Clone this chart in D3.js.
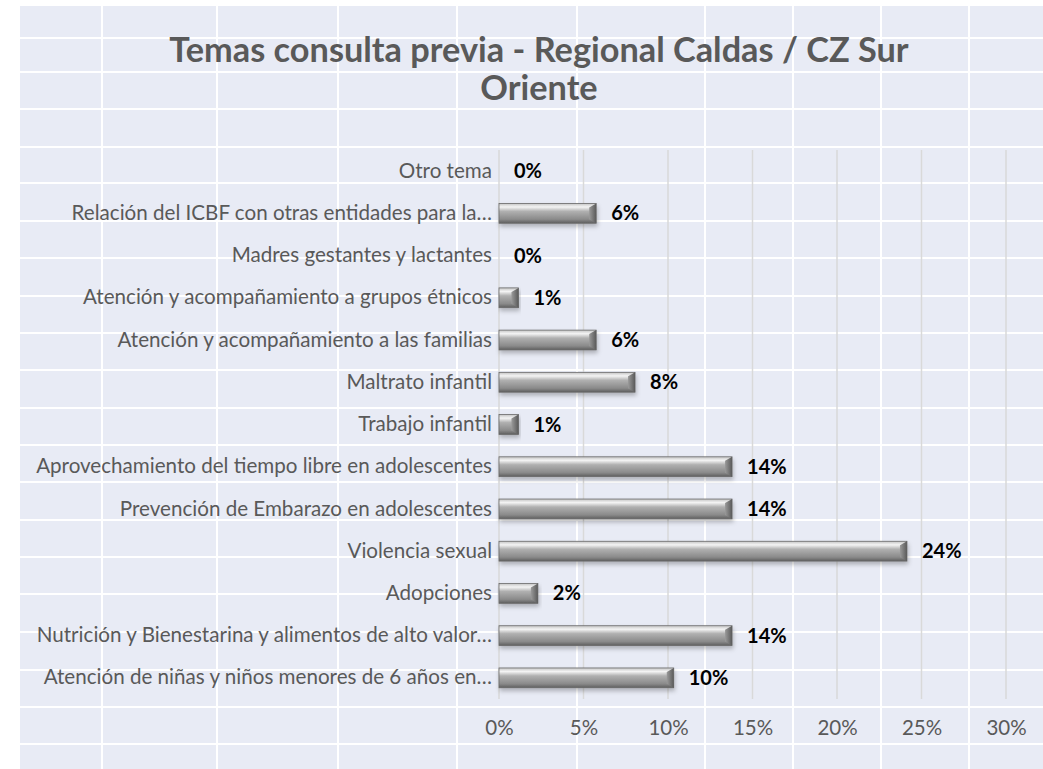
<!DOCTYPE html>
<html>
<head>
<meta charset="utf-8">
<script src="https://cdn.jsdelivr.net/npm/d3@7"></script>
<style>
  body { margin: 0; background: #fff; }
  svg { display: block; }
</style>
</head>
<body>
<svg id="chart" width="1043" height="769"></svg>
<script>
// categories bottom -> top as in the chart
let categories = [
  "Atención de niñas y niños menores de 6 años en…",
  "Nutrición y Bienestarina y alimentos de alto valor…",
  "Adopciones",
  "Violencia sexual",
  "Prevención de Embarazo en adolescentes",
  "Aprovechamiento del tiempo libre en adolescentes",
  "Trabajo infantil",
  "Maltrato infantil",
  "Atención y acompañamiento a las familias",
  "Atención y acompañamiento a grupos étnicos",
  "Madres gestantes y lactantes",
  "Relación del ICBF con otras entidades para la…",
  "Otro tema"
];
let values = [0.1034, 0.1379, 0.0230, 0.2414, 0.1379, 0.1379, 0.0115, 0.0805, 0.0575, 0.0115, 0, 0.0575, 0];
let ticks = [0, 0.05, 0.10, 0.15, 0.20, 0.25, 0.30];

let titleLines = ["Temas consulta previa - Regional Caldas / CZ Sur", "Oriente"];

// worksheet-like white lines behind the chart
let sheetCols = [102, 217, 338, 457, 577, 705, 793, 881, 969];
let sheetRows = [38, 72, 109, 147, 183, 221, 258, 296, 333, 370, 408, 445, 482, 520, 557, 594, 632, 670, 707, 744];

const W = 1043, H = 769;
const font = "Lato, 'Open Sans', sans-serif";
let svg = d3.select("#chart");

svg.append("rect")
  .attr("x", 20).attr("y", 6)
  .attr("width", W - 20).attr("height", H - 6)
  .attr("fill", "#e8ebf5");

svg.append("g").selectAll("line.c")
  .data(sheetCols).enter().append("line")
  .attr("x1", d => d).attr("x2", d => d)
  .attr("y1", 6).attr("y2", H)
  .attr("stroke", "#fff").attr("stroke-width", 2);

svg.append("g").selectAll("line.r")
  .data(sheetRows).enter().append("line")
  .attr("x1", 20).attr("x2", W)
  .attr("y1", d => d).attr("y2", d => d)
  .attr("stroke", "#fff").attr("stroke-width", 2);

// title
svg.append("g").selectAll("text")
  .data(titleLines).enter().append("text")
  .attr("x", 539)
  .attr("y", (d, i) => 62 + i * 38)
  .attr("text-anchor", "middle")
  .attr("font-family", font)
  .attr("font-weight", "bold")
  .attr("font-size", 34.3)
  .attr("fill", "#595959")
  .text(d => d);

let x = d3.scaleLinear().domain([0, 0.30]).range([499, 1006]);
let y = d3.scaleBand().domain(categories.slice().reverse()).range([150, 699]).paddingInner(0.53).paddingOuter(0.265);

// gridlines
svg.append("g").selectAll("line")
  .data(ticks).enter().append("line")
  .attr("x1", d => x(d)).attr("x2", d => x(d))
  .attr("y1", 150).attr("y2", 699)
  .attr("stroke", "#d9d9d9").attr("stroke-width", 1.5);

// x axis labels
let xAxis = d3.axisBottom(x).tickValues(ticks).tickFormat(d3.format(".0%")).tickSize(0).tickPadding(0);
let gx = svg.append("g").attr("transform", "translate(0,720)").call(xAxis);
gx.select(".domain").remove();
gx.selectAll("text")
  .attr("font-family", font).attr("font-size", 20.5).attr("fill", "#595959");

// category labels
let yAxis = d3.axisLeft(y).tickSize(0).tickPadding(7);
let gy = svg.append("g").attr("transform", "translate(499,0)").call(yAxis);
gy.select(".domain").remove();
gy.selectAll("text")
  .attr("font-family", font).attr("font-size", 20.6).attr("fill", "#595959");

// bar gradient
let defs = svg.append("defs");
let grad = defs.append("linearGradient").attr("id", "barGrad")
  .attr("x1", 0).attr("y1", 0).attr("x2", 0).attr("y2", 1);
[["0%", "#c4c4c4"], ["18%", "#f4f4f4"], ["40%", "#b0b0b0"], ["80%", "#8a8a8a"], ["100%", "#5e5e5e"]]
  .forEach(s => grad.append("stop").attr("offset", s[0]).attr("stop-color", s[1]));
let endGrad = defs.append("linearGradient").attr("id", "endGrad")
  .attr("x1", 0).attr("y1", 0).attr("x2", 1).attr("y2", 0);
[["0%", "#9a9a9a"], ["100%", "#5a5a5a"]]
  .forEach(s => endGrad.append("stop").attr("offset", s[0]).attr("stop-color", s[1]));
let shadow = defs.append("filter").attr("id", "shadow").attr("x", "-5%").attr("y", "-30%").attr("width", "115%").attr("height", "190%");
shadow.append("feDropShadow").attr("dx", 1).attr("dy", 3).attr("stdDeviation", 2).attr("flood-color", "#000").attr("flood-opacity", 0.25);

let bars = svg.append("g").selectAll("g")
  .data(categories.map((c, i) => ({ c: c, v: values[i] })).filter(d => d.v > 0))
  .enter().append("g");

bars.append("rect")
  .attr("x", x(0))
  .attr("y", d => y(d.c))
  .attr("width", d => x(d.v) - x(0))
  .attr("height", y.bandwidth())
  .attr("fill", "url(#barGrad)")
  .attr("stroke", "#6a6a6a").attr("stroke-width", 0.8)
  .attr("filter", "url(#shadow)");

// bevelled right end
bars.append("polygon")
  .attr("points", d => {
    let x1 = x(d.v), y0 = y(d.c), h = y.bandwidth();
    let b = Math.min(7, (x1 - x(0)) / 2);
    return [[x1 - b, y0 + 4], [x1, y0], [x1, y0 + h], [x1 - b, y0 + h - 4]].join(" ");
  })
  .attr("fill", "url(#endGrad)");

// value labels
svg.append("g").selectAll("text")
  .data(categories.map((c, i) => ({ c: c, v: values[i] })))
  .enter().append("text")
  .attr("x", d => x(d.v) + 15)
  .attr("y", d => y(d.c) + y.bandwidth() / 2)
  .attr("dy", "0.35em")
  .attr("font-family", font)
  .attr("font-weight", "bold")
  .attr("font-size", 20)
  .attr("fill", "#000")
  .text(d => d3.format(".0%")(d.v));
</script>
</body>
</html>
